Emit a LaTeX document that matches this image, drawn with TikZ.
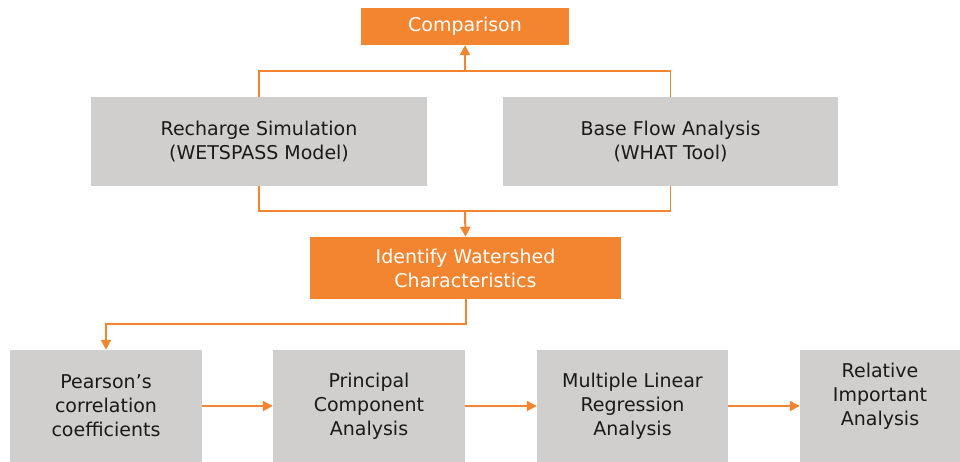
\documentclass[tikz,border=0pt]{standalone}
\usepackage{fontspec}
\setmainfont{DejaVu Sans}
\usetikzlibrary{arrows.meta}
\definecolor{flowor}{HTML}{F38430}
\definecolor{boxgray}{HTML}{D0CFCE}
\definecolor{ink}{HTML}{1A1A1A}
\begin{document}
\begin{tikzpicture}[x=1pt,y=1pt,
  txt/.style={font=\fontsize{19}{24}\selectfont, align=center},
  graybox/.style={txt, fill=boxgray, text=ink, inner sep=0pt},
  orangebox/.style={txt, fill=flowor, text=white, inner sep=0pt},
  link/.style={draw=flowor, line width=1.4pt},
  arr/.style={draw=flowor, line width=2pt, -{Triangle[length=10pt,width=10pt]}}]
\useasboundingbox (0,0) rectangle (960,462);

% top row
\node[orangebox, minimum width=208, minimum height=37] (cmp) at (465,435.5) {Comparison};
\node[graybox, minimum width=336, minimum height=89] (rech) at (259,320.5) {Recharge Simulation\\(WETSPASS Model)};
\node[graybox, minimum width=335, minimum height=89] (base) at (670.5,320.5) {Base Flow Analysis\\(WHAT Tool)};
\node[orangebox, minimum width=311, minimum height=62] (idf) at (465.5,194) {Identify Watershed\\Characteristics};

% bottom row
\node[graybox, minimum width=192, minimum height=112] (pear) at (106,56) {Pearson’s\\correlation\\coefficients};
\node[graybox, minimum width=192, minimum height=112] (prin) at (369,56) {Principal\\Component\\Analysis};
\node[graybox, minimum width=191, minimum height=112] (mlr) at (632.5,56) {Multiple Linear\\Regression\\Analysis};
\node[graybox, minimum width=160, minimum height=112,
  label={[txt, text=ink, yshift=10pt]center:Relative\\Important\\Analysis}] (rel) at (880,56) {};

% junctions
\coordinate (topj) at (465,391);
\coordinate (botj) at (465,251);

% brackets joining the two analyses
\draw[link] (rech.north) -- (rech.north |- topj) -| (base.north);
\draw[link] (rech.south) -- (rech.south |- botj) -| (base.south);
\draw[arr] (topj) -- (cmp.south);
\draw[arr] (botj) -- (idf.north);

% into the statistical chain
\draw[arr] (idf.south) -- ++(0,-25) -| (pear.north);
\draw[arr] (pear.east) -- (prin.west);
\draw[arr] (prin.east) -- (mlr.west);
\draw[arr] (mlr.east) -- (rel.west);
\end{tikzpicture}
\end{document}
